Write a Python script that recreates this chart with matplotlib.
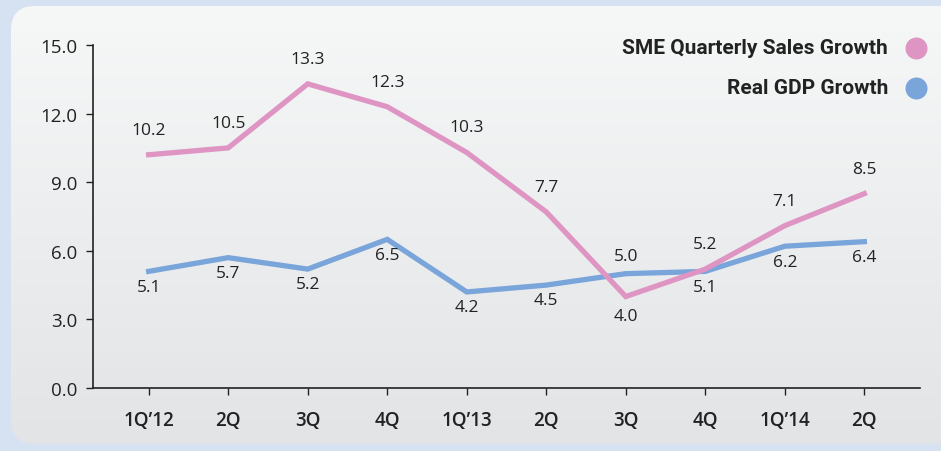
import numpy as np
import matplotlib.pyplot as plt
from matplotlib.patches import FancyBboxPatch

quarters = ["1Q\u201912", "2Q", "3Q", "4Q", "1Q\u201913", "2Q", "3Q", "4Q", "1Q\u201914", "2Q"]
sme_sales = [10.2, 10.5, 13.3, 12.3, 10.3, 7.7, 4.0, 5.2, 7.1, 8.5]
real_gdp = [5.1, 5.7, 5.2, 6.5, 4.2, 4.5, 5.0, 5.1, 6.2, 6.4]
yticks = [0.0, 3.0, 6.0, 9.0, 12.0, 15.0]

pink = '#df95c3'
blue = '#79a5da'
txt = '#222222'
plt.rcParams['font.family'] = ['Open Sans', 'DejaVu Sans']

fig = plt.figure(figsize=(9.41, 4.52), dpi=100)
fig.patch.set_facecolor('#d6e1f2')

# rounded panel with vertical gradient
bg = fig.add_axes([0, 0, 1, 1], zorder=-1)
bg.set_xlim(0, 941)
bg.set_ylim(452, 0)
bg.axis('off')
panel = FancyBboxPatch((11, 7), 980, 438, boxstyle='round,pad=0,rounding_size=24',
                       facecolor='none', edgecolor='none')
bg.add_patch(panel)
grad = np.linspace(0, 1, 256).reshape(-1, 1)
top = np.array([0.965, 0.969, 0.969])
bot = np.array([0.890, 0.894, 0.902])
img = top + (bot - top) * grad[..., None]
im = bg.imshow(img, extent=[11, 991, 445, 7], aspect='auto', zorder=0)
im.set_clip_path(panel)

ax = fig.add_axes([93 / 941, 63 / 452, 827 / 941, 343 / 452])
ax.patch.set_alpha(0)
x = np.arange(len(quarters))
ax.plot(x, sme_sales, color=pink, lw=3.8, solid_joinstyle='miter', zorder=3)
ax.plot(x, real_gdp, color=blue, lw=3.8, solid_joinstyle='miter', zorder=2)

for i, (s, g) in enumerate(zip(sme_sales, real_gdp)):
    s_up = s >= g or i == 7
    ax.annotate(f"{s:.1f}", (i, s), xytext=(0, 18 if s_up else -14), textcoords='offset points',
                ha='center', va='center', fontsize=12.5, color=txt)
    ax.annotate(f"{g:.1f}", (i, g), xytext=(0, -11 if s_up else 13), textcoords='offset points',
                ha='center', va='center', fontsize=12.5, color=txt)

ax.set_xlim(-0.7, 9.7)
ax.set_ylim(0, 15)
ax.set_yticks(yticks)
ax.set_yticklabels([f"{v:.1f}" for v in yticks])
ax.set_xticks(x)
ax.set_xticklabels(quarters, fontweight='semibold', fontsize=14)
ax.tick_params(axis='both', length=5, width=1, color=txt, labelcolor=txt, labelsize=13.5)
ax.tick_params(axis='x', pad=11)
ax.tick_params(axis='y', pad=6)
for sp in ['top', 'right']:
    ax.spines[sp].set_visible(False)
for sp in ['left', 'bottom']:
    ax.spines[sp].set_color(txt)
    ax.spines[sp].set_linewidth(1.2)

# legend
names = ["SME Quarterly Sales Growth", "Real GDP Growth"]
for k, (name, c) in enumerate(zip(names, [pink, blue])):
    yy = 1 - (49 + 40 * k) / 452
    fig.text(888 / 941, yy, name, ha='right', va='center', fontsize=15,
             fontweight='bold', color=txt, family=['Roboto', 'DejaVu Sans'])
    bg.scatter([916], [49 + 40 * k], s=220, color=c, zorder=5)

fig.savefig('out.png', dpi=100, facecolor=fig.get_facecolor())
